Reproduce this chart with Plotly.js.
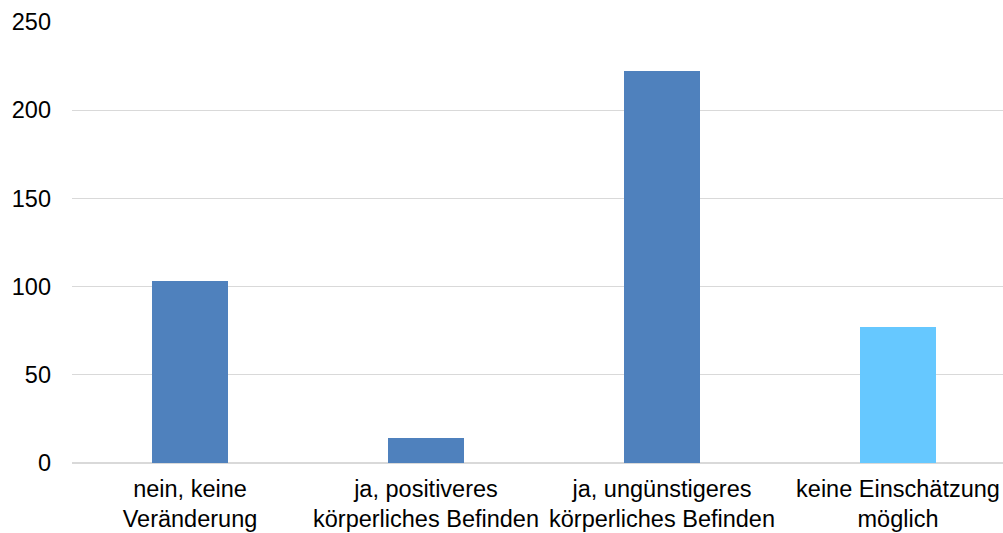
<!DOCTYPE html>
<html>
<head>
<meta charset="utf-8">
<script src="https://cdn.plot.ly/plotly-3.0.1.min.js"></script>
<style>html,body{margin:0;padding:0;background:#fff;}#chart{width:1003px;height:533px;}</style>
</head>
<body>
<div id="chart"></div>
<script>
const categories = ["nein, keine<br>Veränderung", "ja, positiveres<br>körperliches Befinden", "ja, ungünstigeres<br>körperliches Befinden", "keine Einschätzung<br>möglich"];
const values = [103, 14, 222, 77];
const barColors = ["#4F81BD", "#4F81BD", "#4F81BD", "#66C8FF"];
const yTicks = [0, 50, 100, 150, 200, 250];

const trace = {
  type: 'bar',
  x: [0, 1, 2, 3],
  y: values,
  width: 0.32,
  marker: {color: barColors},
  hoverinfo: 'none'
};

const layout = {
  width: 1003, height: 533,
  margin: {l: 72, r: 0, t: 22, b: 70},
  paper_bgcolor: '#ffffff', plot_bgcolor: '#ffffff',
  font: {family: 'Liberation Sans, Arial, sans-serif', size: 23.5, color: '#000000'},
  showlegend: false,
  bargap: 0,
  xaxis: {
    range: [-0.5, 3.445],
    tickmode: 'array', tickvals: [0, 1, 2, 3], ticktext: categories,
    showgrid: false, zeroline: false, showline: false, ticks: '',
    ticklabelstandoff: 9,
    tickfont: {size: 23.5}
  },
  yaxis: {
    range: [0, 250],
    tickmode: 'array', tickvals: yTicks,
    showgrid: true, gridcolor: '#d9d9d9', gridwidth: 1.3,
    zeroline: true, zerolinecolor: '#d9d9d9', zerolinewidth: 1.3,
    showline: false, ticks: '',
    ticklabelstandoff: 20,
    tickfont: {size: 23.5}
  }
};

Plotly.newPlot('chart', [trace], layout, {displayModeBar: false, staticPlot: true});
</script>
</body>
</html>
